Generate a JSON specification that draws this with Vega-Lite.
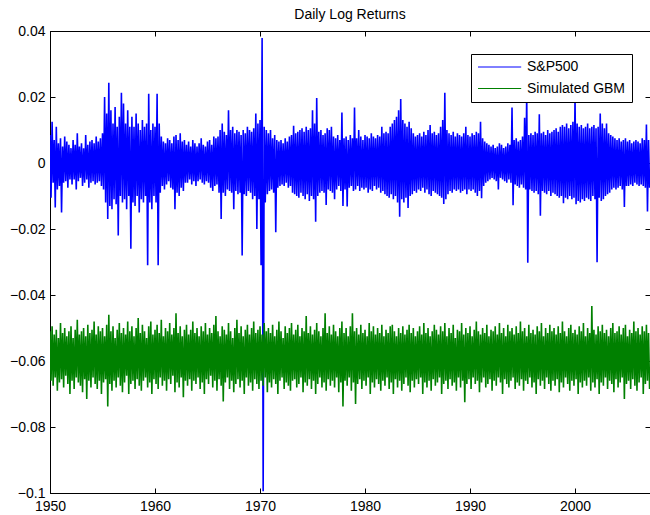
{
"$schema": "https://vega.github.io/schema/vega-lite/v6.json",
"width": 600, "height": 462,
"autosize": {"type": "none"},
"padding": {"left": 50, "top": 31, "right": 0, "bottom": 22},
"background": "white",
"title": {"text": "Daily Log Returns", "fontSize": 14, "font": "Liberation Sans", "fontWeight": "normal", "color": "black", "offset": 2},
"config": {
  "view": {"stroke": "black", "strokeWidth": 1},
  "axis": {"domainColor": "black", "tickColor": "black", "labelColor": "black", "labelFont": "Liberation Sans", "labelFontSize": 14, "grid": false, "tickSize": -5, "title": null, "domainWidth": 1, "tickWidth": 1, "labelPadding": 10, "labelFlush": false}
},
"data": {"values": [
{"t":1950.0,"s":0.0085,"g":-0.0510},{"t":1950.1,"s":-0.0105,"g":-0.0660},{"t":1950.2,"s":0.0125,"g":-0.0495},{"t":1950.3,"s":-0.0060,"g":-0.0675},{"t":1950.4,"s":0.0070,"g":-0.0520},{"t":1950.5,"s":-0.0135,"g":-0.0650},{"t":1950.6,"s":0.0110,"g":-0.0505},{"t":1950.7,"s":-0.0080,"g":-0.0690},{"t":1950.8,"s":0.0060,"g":-0.0530},{"t":1950.9,"s":-0.0070,"g":-0.0665},
{"t":1951.0,"s":0.0075,"g":-0.0485},{"t":1951.1,"s":-0.0150,"g":-0.0655},{"t":1951.2,"s":0.0050,"g":-0.0515},{"t":1951.3,"s":-0.0060,"g":-0.0680},{"t":1951.4,"s":0.0080,"g":-0.0500},{"t":1951.5,"s":-0.0055,"g":-0.0645},{"t":1951.6,"s":0.0065,"g":-0.0525},{"t":1951.7,"s":-0.0075,"g":-0.0670},{"t":1951.8,"s":0.0055,"g":-0.0510},{"t":1951.9,"s":-0.0050,"g":-0.0700},
{"t":1952.0,"s":0.0045,"g":-0.0495},{"t":1952.1,"s":-0.0065,"g":-0.0660},{"t":1952.2,"s":0.0070,"g":-0.0530},{"t":1952.3,"s":-0.0050,"g":-0.0685},{"t":1952.4,"s":0.0055,"g":-0.0505},{"t":1952.5,"s":-0.0080,"g":-0.0650},{"t":1952.6,"s":0.0090,"g":-0.0475},{"t":1952.7,"s":-0.0055,"g":-0.0665},{"t":1952.8,"s":0.0050,"g":-0.0520},{"t":1952.9,"s":-0.0045,"g":-0.0675},
{"t":1953.0,"s":0.0060,"g":-0.0510},{"t":1953.1,"s":-0.0070,"g":-0.0695},{"t":1953.2,"s":0.0045,"g":-0.0500},{"t":1953.3,"s":-0.0060,"g":-0.0655},{"t":1953.4,"s":0.0085,"g":-0.0525},{"t":1953.5,"s":-0.0050,"g":-0.0715},{"t":1953.6,"s":0.0055,"g":-0.0490},{"t":1953.7,"s":-0.0075,"g":-0.0660},{"t":1953.8,"s":0.0065,"g":-0.0515},{"t":1953.9,"s":-0.0060,"g":-0.0680},
{"t":1954.0,"s":0.0070,"g":-0.0505},{"t":1954.1,"s":-0.0055,"g":-0.0650},{"t":1954.2,"s":0.0060,"g":-0.0480},{"t":1954.3,"s":-0.0065,"g":-0.0670},{"t":1954.4,"s":0.0080,"g":-0.0520},{"t":1954.5,"s":-0.0060,"g":-0.0685},{"t":1954.6,"s":0.0065,"g":-0.0495},{"t":1954.7,"s":-0.0055,"g":-0.0660},{"t":1954.8,"s":0.0075,"g":-0.0510},{"t":1954.9,"s":-0.0070,"g":-0.0700},
{"t":1955.0,"s":0.0090,"g":-0.0500},{"t":1955.1,"s":-0.0080,"g":-0.0665},{"t":1955.2,"s":0.0200,"g":-0.0525},{"t":1955.3,"s":-0.0120,"g":-0.0655},{"t":1955.4,"s":0.0150,"g":-0.0490},{"t":1955.5,"s":-0.0170,"g":-0.0738},{"t":1955.6,"s":0.0243,"g":-0.0460},{"t":1955.7,"s":-0.0130,"g":-0.0670},{"t":1955.8,"s":0.0160,"g":-0.0510},{"t":1955.9,"s":-0.0140,"g":-0.0690},
{"t":1956.0,"s":0.0120,"g":-0.0495},{"t":1956.1,"s":-0.0110,"g":-0.0660},{"t":1956.2,"s":0.0170,"g":-0.0530},{"t":1956.3,"s":-0.0125,"g":-0.0680},{"t":1956.4,"s":0.0110,"g":-0.0505},{"t":1956.5,"s":-0.0220,"g":-0.0650},{"t":1956.6,"s":0.0140,"g":-0.0485},{"t":1956.7,"s":-0.0100,"g":-0.0675},{"t":1956.8,"s":0.0213,"g":-0.0515},{"t":1956.9,"s":-0.0120,"g":-0.0695},
{"t":1957.0,"s":0.0180,"g":-0.0500},{"t":1957.1,"s":-0.0110,"g":-0.0665},{"t":1957.2,"s":0.0120,"g":-0.0520},{"t":1957.3,"s":-0.0140,"g":-0.0645},{"t":1957.4,"s":0.0160,"g":-0.0480},{"t":1957.5,"s":-0.0100,"g":-0.0700},{"t":1957.6,"s":0.0110,"g":-0.0510},{"t":1957.7,"s":-0.0260,"g":-0.0670},{"t":1957.8,"s":0.0140,"g":-0.0495},{"t":1957.9,"s":-0.0120,"g":-0.0660},
{"t":1958.0,"s":0.0110,"g":-0.0525},{"t":1958.1,"s":-0.0130,"g":-0.0685},{"t":1958.2,"s":0.0150,"g":-0.0500},{"t":1958.3,"s":-0.0100,"g":-0.0655},{"t":1958.4,"s":0.0120,"g":-0.0470},{"t":1958.5,"s":-0.0150,"g":-0.0675},{"t":1958.6,"s":0.0100,"g":-0.0515},{"t":1958.7,"s":-0.0110,"g":-0.0690},{"t":1958.8,"s":0.0130,"g":-0.0490},{"t":1958.9,"s":-0.0120,"g":-0.0660},
{"t":1959.0,"s":0.0110,"g":-0.0510},{"t":1959.1,"s":-0.0100,"g":-0.0650},{"t":1959.2,"s":0.0120,"g":-0.0530},{"t":1959.3,"s":-0.0310,"g":-0.0680},{"t":1959.4,"s":0.0210,"g":-0.0495},{"t":1959.5,"s":-0.0120,"g":-0.0665},{"t":1959.6,"s":0.0100,"g":-0.0480},{"t":1959.7,"s":-0.0140,"g":-0.0700},{"t":1959.8,"s":0.0120,"g":-0.0520},{"t":1959.9,"s":-0.0100,"g":-0.0655},
{"t":1960.0,"s":0.0110,"g":-0.0505},{"t":1960.1,"s":-0.0120,"g":-0.0670},{"t":1960.2,"s":0.0210,"g":-0.0490},{"t":1960.3,"s":-0.0310,"g":-0.0685},{"t":1960.4,"s":0.0120,"g":-0.0515},{"t":1960.5,"s":-0.0090,"g":-0.0650},{"t":1960.6,"s":0.0080,"g":-0.0475},{"t":1960.7,"s":-0.0070,"g":-0.0675},{"t":1960.8,"s":0.0065,"g":-0.0525},{"t":1960.9,"s":-0.0080,"g":-0.0660},
{"t":1961.0,"s":0.0060,"g":-0.0500},{"t":1961.1,"s":-0.0065,"g":-0.0690},{"t":1961.2,"s":0.0075,"g":-0.0510},{"t":1961.3,"s":-0.0055,"g":-0.0655},{"t":1961.4,"s":0.0070,"g":-0.0485},{"t":1961.5,"s":-0.0075,"g":-0.0670},{"t":1961.6,"s":0.0060,"g":-0.0520},{"t":1961.7,"s":-0.0080,"g":-0.0645},{"t":1961.8,"s":0.0080,"g":-0.0500},{"t":1961.9,"s":-0.0140,"g":-0.0695},
{"t":1962.0,"s":0.0085,"g":-0.0455},{"t":1962.1,"s":-0.0090,"g":-0.0665},{"t":1962.2,"s":0.0070,"g":-0.0515},{"t":1962.3,"s":-0.0100,"g":-0.0680},{"t":1962.4,"s":0.0090,"g":-0.0495},{"t":1962.5,"s":-0.0075,"g":-0.0650},{"t":1962.6,"s":0.0065,"g":-0.0525},{"t":1962.7,"s":-0.0085,"g":-0.0710},{"t":1962.8,"s":0.0070,"g":-0.0505},{"t":1962.9,"s":-0.0060,"g":-0.0660},
{"t":1963.0,"s":0.0055,"g":-0.0490},{"t":1963.1,"s":-0.0060,"g":-0.0675},{"t":1963.2,"s":0.0065,"g":-0.0520},{"t":1963.3,"s":-0.0050,"g":-0.0655},{"t":1963.4,"s":0.0050,"g":-0.0505},{"t":1963.5,"s":-0.0065,"g":-0.0690},{"t":1963.6,"s":0.0070,"g":-0.0480},{"t":1963.7,"s":-0.0055,"g":-0.0660},{"t":1963.8,"s":0.0060,"g":-0.0515},{"t":1963.9,"s":-0.0070,"g":-0.0670},
{"t":1964.0,"s":0.0050,"g":-0.0500},{"t":1964.1,"s":-0.0055,"g":-0.0650},{"t":1964.2,"s":0.0060,"g":-0.0525},{"t":1964.3,"s":-0.0050,"g":-0.0685},{"t":1964.4,"s":0.0075,"g":-0.0495},{"t":1964.5,"s":-0.0060,"g":-0.0665},{"t":1964.6,"s":0.0055,"g":-0.0510},{"t":1964.7,"s":-0.0065,"g":-0.0700},{"t":1964.8,"s":0.0050,"g":-0.0485},{"t":1964.9,"s":-0.0055,"g":-0.0655},
{"t":1965.0,"s":0.0065,"g":-0.0520},{"t":1965.1,"s":-0.0060,"g":-0.0670},{"t":1965.2,"s":0.0070,"g":-0.0500},{"t":1965.3,"s":-0.0075,"g":-0.0645},{"t":1965.4,"s":0.0055,"g":-0.0515},{"t":1965.5,"s":-0.0085,"g":-0.0680},{"t":1965.6,"s":0.0080,"g":-0.0490},{"t":1965.7,"s":-0.0070,"g":-0.0660},{"t":1965.8,"s":0.0075,"g":-0.0464},{"t":1965.9,"s":-0.0065,"g":-0.0690},
{"t":1966.0,"s":0.0080,"g":-0.0510},{"t":1966.1,"s":-0.0090,"g":-0.0655},{"t":1966.2,"s":0.0100,"g":-0.0525},{"t":1966.3,"s":-0.0170,"g":-0.0675},{"t":1966.4,"s":0.0120,"g":-0.0495},{"t":1966.5,"s":-0.0090,"g":-0.0723},{"t":1966.6,"s":0.0095,"g":-0.0505},{"t":1966.7,"s":-0.0100,"g":-0.0665},{"t":1966.8,"s":0.0085,"g":-0.0520},{"t":1966.9,"s":-0.0080,"g":-0.0650},
{"t":1967.0,"s":0.0160,"g":-0.0485},{"t":1967.1,"s":-0.0085,"g":-0.0685},{"t":1967.2,"s":0.0100,"g":-0.0510},{"t":1967.3,"s":-0.0090,"g":-0.0660},{"t":1967.4,"s":0.0110,"g":-0.0530},{"t":1967.5,"s":-0.0140,"g":-0.0695},{"t":1967.6,"s":0.0090,"g":-0.0500},{"t":1967.7,"s":-0.0085,"g":-0.0670},{"t":1967.8,"s":0.0100,"g":-0.0475},{"t":1967.9,"s":-0.0095,"g":-0.0655},
{"t":1968.0,"s":0.0095,"g":-0.0515},{"t":1968.1,"s":-0.0090,"g":-0.0680},{"t":1968.2,"s":0.0085,"g":-0.0495},{"t":1968.3,"s":-0.0280,"g":-0.0660},{"t":1968.4,"s":0.0100,"g":-0.0525},{"t":1968.5,"s":-0.0095,"g":-0.0700},{"t":1968.6,"s":0.0090,"g":-0.0505},{"t":1968.7,"s":-0.0100,"g":-0.0650},{"t":1968.8,"s":0.0110,"g":-0.0490},{"t":1968.9,"s":-0.0085,"g":-0.0675},
{"t":1969.0,"s":0.0100,"g":-0.0520},{"t":1969.1,"s":-0.0090,"g":-0.0665},{"t":1969.2,"s":0.0095,"g":-0.0500},{"t":1969.3,"s":-0.0110,"g":-0.0690},{"t":1969.4,"s":0.0105,"g":-0.0480},{"t":1969.5,"s":-0.0100,"g":-0.0655},{"t":1969.6,"s":0.0150,"g":-0.0515},{"t":1969.7,"s":-0.0200,"g":-0.0670},{"t":1969.8,"s":0.0120,"g":-0.0505},{"t":1969.9,"s":-0.0110,"g":-0.0685},
{"t":1970.0,"s":0.0130,"g":-0.0495},{"t":1970.1,"s":-0.0310,"g":-0.0660},{"t":1970.2,"s":0.0379,"g":-0.0520},{"t":1970.3,"s":-0.0995,"g":-0.0675},{"t":1970.4,"s":0.0110,"g":-0.0485},{"t":1970.5,"s":-0.0120,"g":-0.0650},{"t":1970.6,"s":0.0100,"g":-0.0510},{"t":1970.7,"s":-0.0095,"g":-0.0695},{"t":1970.8,"s":0.0090,"g":-0.0500},{"t":1970.9,"s":-0.0085,"g":-0.0665},
{"t":1971.0,"s":0.0100,"g":-0.0515},{"t":1971.1,"s":-0.0080,"g":-0.0680},{"t":1971.2,"s":0.0075,"g":-0.0490},{"t":1971.3,"s":-0.0090,"g":-0.0655},{"t":1971.4,"s":0.0085,"g":-0.0525},{"t":1971.5,"s":-0.0210,"g":-0.0670},{"t":1971.6,"s":0.0070,"g":-0.0505},{"t":1971.7,"s":-0.0075,"g":-0.0700},{"t":1971.8,"s":0.0065,"g":-0.0480},{"t":1971.9,"s":-0.0070,"g":-0.0660},
{"t":1972.0,"s":0.0070,"g":-0.0510},{"t":1972.1,"s":-0.0065,"g":-0.0650},{"t":1972.2,"s":0.0060,"g":-0.0530},{"t":1972.3,"s":-0.0070,"g":-0.0685},{"t":1972.4,"s":0.0075,"g":-0.0495},{"t":1972.5,"s":-0.0060,"g":-0.0665},{"t":1972.6,"s":0.0065,"g":-0.0515},{"t":1972.7,"s":-0.0075,"g":-0.0675},{"t":1972.8,"s":0.0080,"g":-0.0500},{"t":1972.9,"s":-0.0070,"g":-0.0690},
{"t":1973.0,"s":0.0085,"g":-0.0485},{"t":1973.1,"s":-0.0090,"g":-0.0660},{"t":1973.2,"s":0.0113,"g":-0.0520},{"t":1973.3,"s":-0.0095,"g":-0.0655},{"t":1973.4,"s":0.0090,"g":-0.0505},{"t":1973.5,"s":-0.0100,"g":-0.0680},{"t":1973.6,"s":0.0095,"g":-0.0490},{"t":1973.7,"s":-0.0105,"g":-0.0670},{"t":1973.8,"s":0.0100,"g":-0.0525},{"t":1973.9,"s":-0.0090,"g":-0.0650},
{"t":1974.0,"s":0.0105,"g":-0.0500},{"t":1974.1,"s":-0.0100,"g":-0.0695},{"t":1974.2,"s":0.0095,"g":-0.0510},{"t":1974.3,"s":-0.0110,"g":-0.0665},{"t":1974.4,"s":0.0110,"g":-0.0464},{"t":1974.5,"s":-0.0095,"g":-0.0675},{"t":1974.6,"s":0.0100,"g":-0.0515},{"t":1974.7,"s":-0.0115,"g":-0.0655},{"t":1974.8,"s":0.0105,"g":-0.0495},{"t":1974.9,"s":-0.0100,"g":-0.0685},
{"t":1975.0,"s":0.0160,"g":-0.0520},{"t":1975.1,"s":-0.0110,"g":-0.0660},{"t":1975.2,"s":0.0120,"g":-0.0505},{"t":1975.3,"s":-0.0178,"g":-0.0700},{"t":1975.4,"s":0.0197,"g":-0.0485},{"t":1975.5,"s":-0.0100,"g":-0.0670},{"t":1975.6,"s":0.0095,"g":-0.0510},{"t":1975.7,"s":-0.0090,"g":-0.0650},{"t":1975.8,"s":0.0100,"g":-0.0525},{"t":1975.9,"s":-0.0085,"g":-0.0680},
{"t":1976.0,"s":0.0085,"g":-0.0500},{"t":1976.1,"s":-0.0090,"g":-0.0665},{"t":1976.2,"s":0.0090,"g":-0.0455},{"t":1976.3,"s":-0.0127,"g":-0.0690},{"t":1976.4,"s":0.0105,"g":-0.0515},{"t":1976.5,"s":-0.0080,"g":-0.0655},{"t":1976.6,"s":0.0100,"g":-0.0495},{"t":1976.7,"s":-0.0085,"g":-0.0675},{"t":1976.8,"s":0.0110,"g":-0.0520},{"t":1976.9,"s":-0.0090,"g":-0.0660},
{"t":1977.0,"s":0.0080,"g":-0.0490},{"t":1977.1,"s":-0.0110,"g":-0.0680},{"t":1977.2,"s":0.0075,"g":-0.0510},{"t":1977.3,"s":-0.0080,"g":-0.0650},{"t":1977.4,"s":0.0085,"g":-0.0525},{"t":1977.5,"s":-0.0070,"g":-0.0695},{"t":1977.6,"s":0.0070,"g":-0.0500},{"t":1977.7,"s":-0.0085,"g":-0.0665},{"t":1977.8,"s":0.0153,"g":-0.0480},{"t":1977.9,"s":-0.0130,"g":-0.0738},
{"t":1978.0,"s":0.0075,"g":-0.0515},{"t":1978.1,"s":-0.0080,"g":-0.0660},{"t":1978.2,"s":0.0080,"g":-0.0500},{"t":1978.3,"s":-0.0132,"g":-0.0675},{"t":1978.4,"s":0.0070,"g":-0.0525},{"t":1978.5,"s":-0.0075,"g":-0.0650},{"t":1978.6,"s":0.0085,"g":-0.0495},{"t":1978.7,"s":-0.0070,"g":-0.0690},{"t":1978.8,"s":0.0075,"g":-0.0455},{"t":1978.9,"s":-0.0085,"g":-0.0665},
{"t":1979.0,"s":0.0168,"g":-0.0510},{"t":1979.1,"s":-0.0080,"g":-0.0730},{"t":1979.2,"s":0.0075,"g":-0.0500},{"t":1979.3,"s":-0.0070,"g":-0.0670},{"t":1979.4,"s":0.0100,"g":-0.0520},{"t":1979.5,"s":-0.0085,"g":-0.0655},{"t":1979.6,"s":0.0080,"g":-0.0490},{"t":1979.7,"s":-0.0075,"g":-0.0685},{"t":1979.8,"s":0.0070,"g":-0.0515},{"t":1979.9,"s":-0.0080,"g":-0.0660},
{"t":1980.0,"s":0.0085,"g":-0.0505},{"t":1980.1,"s":-0.0075,"g":-0.0675},{"t":1980.2,"s":0.0080,"g":-0.0525},{"t":1980.3,"s":-0.0090,"g":-0.0650},{"t":1980.4,"s":0.0075,"g":-0.0485},{"t":1980.5,"s":-0.0080,"g":-0.0700},{"t":1980.6,"s":0.0090,"g":-0.0510},{"t":1980.7,"s":-0.0085,"g":-0.0665},{"t":1980.8,"s":0.0080,"g":-0.0495},{"t":1980.9,"s":-0.0070,"g":-0.0680},
{"t":1981.0,"s":0.0075,"g":-0.0520},{"t":1981.1,"s":-0.0080,"g":-0.0655},{"t":1981.2,"s":0.0085,"g":-0.0500},{"t":1981.3,"s":-0.0075,"g":-0.0670},{"t":1981.4,"s":0.0080,"g":-0.0515},{"t":1981.5,"s":-0.0090,"g":-0.0690},{"t":1981.6,"s":0.0110,"g":-0.0490},{"t":1981.7,"s":-0.0085,"g":-0.0660},{"t":1981.8,"s":0.0090,"g":-0.0525},{"t":1981.9,"s":-0.0095,"g":-0.0675},
{"t":1982.0,"s":0.0095,"g":-0.0505},{"t":1982.1,"s":-0.0100,"g":-0.0650},{"t":1982.2,"s":0.0090,"g":-0.0515},{"t":1982.3,"s":-0.0105,"g":-0.0685},{"t":1982.4,"s":0.0110,"g":-0.0495},{"t":1982.5,"s":-0.0095,"g":-0.0665},{"t":1982.6,"s":0.0120,"g":-0.0490},{"t":1982.7,"s":-0.0110,"g":-0.0700},{"t":1982.8,"s":0.0130,"g":-0.0510},{"t":1982.9,"s":-0.0100,"g":-0.0655},
{"t":1983.0,"s":0.0140,"g":-0.0525},{"t":1983.1,"s":-0.0120,"g":-0.0680},{"t":1983.2,"s":0.0160,"g":-0.0500},{"t":1983.3,"s":-0.0163,"g":-0.0660},{"t":1983.4,"s":0.0194,"g":-0.0515},{"t":1983.5,"s":-0.0110,"g":-0.0690},{"t":1983.6,"s":0.0130,"g":-0.0495},{"t":1983.7,"s":-0.0120,"g":-0.0670},{"t":1983.8,"s":0.0120,"g":-0.0520},{"t":1983.9,"s":-0.0105,"g":-0.0650},
{"t":1984.0,"s":0.0110,"g":-0.0505},{"t":1984.1,"s":-0.0136,"g":-0.0675},{"t":1984.2,"s":0.0125,"g":-0.0490},{"t":1984.3,"s":-0.0100,"g":-0.0695},{"t":1984.4,"s":0.0105,"g":-0.0515},{"t":1984.5,"s":-0.0095,"g":-0.0660},{"t":1984.6,"s":0.0090,"g":-0.0500},{"t":1984.7,"s":-0.0085,"g":-0.0680},{"t":1984.8,"s":0.0080,"g":-0.0525},{"t":1984.9,"s":-0.0090,"g":-0.0655},
{"t":1985.0,"s":0.0085,"g":-0.0510},{"t":1985.1,"s":-0.0080,"g":-0.0670},{"t":1985.2,"s":0.0090,"g":-0.0495},{"t":1985.3,"s":-0.0085,"g":-0.0650},{"t":1985.4,"s":0.0080,"g":-0.0520},{"t":1985.5,"s":-0.0075,"g":-0.0700},{"t":1985.6,"s":0.0095,"g":-0.0485},{"t":1985.7,"s":-0.0090,"g":-0.0665},{"t":1985.8,"s":0.0085,"g":-0.0515},{"t":1985.9,"s":-0.0080,"g":-0.0680},
{"t":1986.0,"s":0.0100,"g":-0.0500},{"t":1986.1,"s":-0.0095,"g":-0.0660},{"t":1986.2,"s":0.0115,"g":-0.0525},{"t":1986.3,"s":-0.0100,"g":-0.0690},{"t":1986.4,"s":0.0090,"g":-0.0510},{"t":1986.5,"s":-0.0085,"g":-0.0655},{"t":1986.6,"s":0.0095,"g":-0.0490},{"t":1986.7,"s":-0.0090,"g":-0.0675},{"t":1986.8,"s":0.0085,"g":-0.0505},{"t":1986.9,"s":-0.0095,"g":-0.0665},
{"t":1987.0,"s":0.0090,"g":-0.0520},{"t":1987.1,"s":-0.0100,"g":-0.0650},{"t":1987.2,"s":0.0110,"g":-0.0495},{"t":1987.3,"s":-0.0105,"g":-0.0700},{"t":1987.4,"s":0.0130,"g":-0.0510},{"t":1987.5,"s":-0.0124,"g":-0.0670},{"t":1987.6,"s":0.0213,"g":-0.0485},{"t":1987.7,"s":-0.0110,"g":-0.0660},{"t":1987.8,"s":0.0100,"g":-0.0525},{"t":1987.9,"s":-0.0095,"g":-0.0685},
{"t":1988.0,"s":0.0090,"g":-0.0500},{"t":1988.1,"s":-0.0085,"g":-0.0655},{"t":1988.2,"s":0.0085,"g":-0.0515},{"t":1988.3,"s":-0.0090,"g":-0.0675},{"t":1988.4,"s":0.0095,"g":-0.0490},{"t":1988.5,"s":-0.0080,"g":-0.0665},{"t":1988.6,"s":0.0080,"g":-0.0530},{"t":1988.7,"s":-0.0085,"g":-0.0690},{"t":1988.8,"s":0.0090,"g":-0.0505},{"t":1988.9,"s":-0.0080,"g":-0.0650},
{"t":1989.0,"s":0.0085,"g":-0.0510},{"t":1989.1,"s":-0.0090,"g":-0.0680},{"t":1989.2,"s":0.0080,"g":-0.0485},{"t":1989.3,"s":-0.0085,"g":-0.0660},{"t":1989.4,"s":0.0090,"g":-0.0520},{"t":1989.5,"s":-0.0080,"g":-0.0725},{"t":1989.6,"s":0.0110,"g":-0.0500},{"t":1989.7,"s":-0.0095,"g":-0.0670},{"t":1989.8,"s":0.0085,"g":-0.0515},{"t":1989.9,"s":-0.0080,"g":-0.0655},
{"t":1990.0,"s":0.0080,"g":-0.0495},{"t":1990.1,"s":-0.0085,"g":-0.0685},{"t":1990.2,"s":0.0090,"g":-0.0525},{"t":1990.3,"s":-0.0080,"g":-0.0650},{"t":1990.4,"s":0.0085,"g":-0.0505},{"t":1990.5,"s":-0.0090,"g":-0.0670},{"t":1990.6,"s":0.0095,"g":-0.0480},{"t":1990.7,"s":-0.0100,"g":-0.0660},{"t":1990.8,"s":0.0090,"g":-0.0510},{"t":1990.9,"s":-0.0085,"g":-0.0695},
{"t":1991.0,"s":0.0125,"g":-0.0520},{"t":1991.1,"s":-0.0107,"g":-0.0665},{"t":1991.2,"s":0.0075,"g":-0.0500},{"t":1991.3,"s":-0.0070,"g":-0.0650},{"t":1991.4,"s":0.0065,"g":-0.0515},{"t":1991.5,"s":-0.0060,"g":-0.0680},{"t":1991.6,"s":0.0060,"g":-0.0490},{"t":1991.7,"s":-0.0055,"g":-0.0670},{"t":1991.8,"s":0.0055,"g":-0.0525},{"t":1991.9,"s":-0.0050,"g":-0.0655},
{"t":1992.0,"s":0.0050,"g":-0.0505},{"t":1992.1,"s":-0.0045,"g":-0.0690},{"t":1992.2,"s":0.0055,"g":-0.0510},{"t":1992.3,"s":-0.0050,"g":-0.0660},{"t":1992.4,"s":0.0045,"g":-0.0495},{"t":1992.5,"s":-0.0055,"g":-0.0675},{"t":1992.6,"s":0.0050,"g":-0.0520},{"t":1992.7,"s":-0.0080,"g":-0.0650},{"t":1992.8,"s":0.0060,"g":-0.0485},{"t":1992.9,"s":-0.0045,"g":-0.0665},
{"t":1993.0,"s":0.0055,"g":-0.0515},{"t":1993.1,"s":-0.0050,"g":-0.0700},{"t":1993.2,"s":0.0045,"g":-0.0500},{"t":1993.3,"s":-0.0055,"g":-0.0655},{"t":1993.4,"s":0.0050,"g":-0.0525},{"t":1993.5,"s":-0.0060,"g":-0.0670},{"t":1993.6,"s":0.0060,"g":-0.0490},{"t":1993.7,"s":-0.0050,"g":-0.0680},{"t":1993.8,"s":0.0055,"g":-0.0510},{"t":1993.9,"s":-0.0060,"g":-0.0660},
{"t":1994.0,"s":0.0168,"g":-0.0500},{"t":1994.1,"s":-0.0128,"g":-0.0650},{"t":1994.2,"s":0.0070,"g":-0.0520},{"t":1994.3,"s":-0.0065,"g":-0.0685},{"t":1994.4,"s":0.0075,"g":-0.0495},{"t":1994.5,"s":-0.0070,"g":-0.0665},{"t":1994.6,"s":0.0065,"g":-0.0515},{"t":1994.7,"s":-0.0075,"g":-0.0675},{"t":1994.8,"s":0.0070,"g":-0.0480},{"t":1994.9,"s":-0.0065,"g":-0.0655},
{"t":1995.0,"s":0.0080,"g":-0.0510},{"t":1995.1,"s":-0.0075,"g":-0.0690},{"t":1995.2,"s":0.0137,"g":-0.0500},{"t":1995.3,"s":-0.0080,"g":-0.0660},{"t":1995.4,"s":0.0210,"g":-0.0525},{"t":1995.5,"s":-0.0302,"g":-0.0670},{"t":1995.6,"s":0.0085,"g":-0.0490},{"t":1995.7,"s":-0.0080,"g":-0.0650},{"t":1995.8,"s":0.0090,"g":-0.0515},{"t":1995.9,"s":-0.0085,"g":-0.0680},
{"t":1996.0,"s":0.0085,"g":-0.0505},{"t":1996.1,"s":-0.0090,"g":-0.0665},{"t":1996.2,"s":0.0095,"g":-0.0520},{"t":1996.3,"s":-0.0085,"g":-0.0700},{"t":1996.4,"s":0.0090,"g":-0.0495},{"t":1996.5,"s":-0.0095,"g":-0.0655},{"t":1996.6,"s":0.0148,"g":-0.0510},{"t":1996.7,"s":-0.0160,"g":-0.0675},{"t":1996.8,"s":0.0090,"g":-0.0485},{"t":1996.9,"s":-0.0085,"g":-0.0660},
{"t":1997.0,"s":0.0095,"g":-0.0525},{"t":1997.1,"s":-0.0090,"g":-0.0685},{"t":1997.2,"s":0.0085,"g":-0.0500},{"t":1997.3,"s":-0.0095,"g":-0.0650},{"t":1997.4,"s":0.0100,"g":-0.0515},{"t":1997.5,"s":-0.0085,"g":-0.0670},{"t":1997.6,"s":0.0090,"g":-0.0490},{"t":1997.7,"s":-0.0100,"g":-0.0690},{"t":1997.8,"s":0.0095,"g":-0.0510},{"t":1997.9,"s":-0.0090,"g":-0.0660},
{"t":1998.0,"s":0.0100,"g":-0.0500},{"t":1998.1,"s":-0.0095,"g":-0.0675},{"t":1998.2,"s":0.0105,"g":-0.0520},{"t":1998.3,"s":-0.0100,"g":-0.0655},{"t":1998.4,"s":0.0095,"g":-0.0495},{"t":1998.5,"s":-0.0105,"g":-0.0695},{"t":1998.6,"s":0.0110,"g":-0.0515},{"t":1998.7,"s":-0.0100,"g":-0.0665},{"t":1998.8,"s":0.0115,"g":-0.0480},{"t":1998.9,"s":-0.0122,"g":-0.0680},
{"t":1999.0,"s":0.0110,"g":-0.0510},{"t":1999.1,"s":-0.0105,"g":-0.0650},{"t":1999.2,"s":0.0120,"g":-0.0525},{"t":1999.3,"s":-0.0110,"g":-0.0670},{"t":1999.4,"s":0.0105,"g":-0.0500},{"t":1999.5,"s":-0.0100,"g":-0.0690},{"t":1999.6,"s":0.0115,"g":-0.0490},{"t":1999.7,"s":-0.0110,"g":-0.0660},{"t":1999.8,"s":0.0125,"g":-0.0515},{"t":1999.9,"s":-0.0105,"g":-0.0675},
{"t":2000.0,"s":0.0200,"g":-0.0505},{"t":2000.1,"s":-0.0125,"g":-0.0655},{"t":2000.2,"s":0.0120,"g":-0.0520},{"t":2000.3,"s":-0.0115,"g":-0.0700},{"t":2000.4,"s":0.0110,"g":-0.0495},{"t":2000.5,"s":-0.0120,"g":-0.0665},{"t":2000.6,"s":0.0115,"g":-0.0510},{"t":2000.7,"s":-0.0110,"g":-0.0680},{"t":2000.8,"s":0.0105,"g":-0.0485},{"t":2000.9,"s":-0.0115,"g":-0.0660},
{"t":2001.0,"s":0.0110,"g":-0.0525},{"t":2001.1,"s":-0.0105,"g":-0.0675},{"t":2001.2,"s":0.0120,"g":-0.0500},{"t":2001.3,"s":-0.0110,"g":-0.0650},{"t":2001.4,"s":0.0105,"g":-0.0515},{"t":2001.5,"s":-0.0115,"g":-0.0690},{"t":2001.6,"s":0.0110,"g":-0.0433},{"t":2001.7,"s":-0.0100,"g":-0.0665},{"t":2001.8,"s":0.0115,"g":-0.0505},{"t":2001.9,"s":-0.0110,"g":-0.0680},
{"t":2002.0,"s":0.0105,"g":-0.0520},{"t":2002.1,"s":-0.0301,"g":-0.0655},{"t":2002.2,"s":0.0110,"g":-0.0495},{"t":2002.3,"s":-0.0105,"g":-0.0700},{"t":2002.4,"s":0.0150,"g":-0.0510},{"t":2002.5,"s":-0.0115,"g":-0.0665},{"t":2002.6,"s":0.0120,"g":-0.0490},{"t":2002.7,"s":-0.0110,"g":-0.0675},{"t":2002.8,"s":0.0105,"g":-0.0515},{"t":2002.9,"s":-0.0100,"g":-0.0650},
{"t":2003.0,"s":0.0120,"g":-0.0505},{"t":2003.1,"s":-0.0095,"g":-0.0685},{"t":2003.2,"s":0.0090,"g":-0.0525},{"t":2003.3,"s":-0.0090,"g":-0.0660},{"t":2003.4,"s":0.0085,"g":-0.0500},{"t":2003.5,"s":-0.0080,"g":-0.0670},{"t":2003.6,"s":0.0080,"g":-0.0485},{"t":2003.7,"s":-0.0075,"g":-0.0695},{"t":2003.8,"s":0.0075,"g":-0.0515},{"t":2003.9,"s":-0.0080,"g":-0.0655},
{"t":2004.0,"s":0.0070,"g":-0.0510},{"t":2004.1,"s":-0.0075,"g":-0.0680},{"t":2004.2,"s":0.0075,"g":-0.0495},{"t":2004.3,"s":-0.0070,"g":-0.0665},{"t":2004.4,"s":0.0065,"g":-0.0520},{"t":2004.5,"s":-0.0080,"g":-0.0650},{"t":2004.6,"s":0.0070,"g":-0.0500},{"t":2004.7,"s":-0.0133,"g":-0.0715},{"t":2004.8,"s":0.0075,"g":-0.0490},{"t":2004.9,"s":-0.0070,"g":-0.0670},
{"t":2005.0,"s":0.0065,"g":-0.0525},{"t":2005.1,"s":-0.0070,"g":-0.0660},{"t":2005.2,"s":0.0070,"g":-0.0505},{"t":2005.3,"s":-0.0065,"g":-0.0685},{"t":2005.4,"s":0.0060,"g":-0.0515},{"t":2005.5,"s":-0.0070,"g":-0.0655},{"t":2005.6,"s":0.0065,"g":-0.0480},{"t":2005.7,"s":-0.0060,"g":-0.0675},{"t":2005.8,"s":0.0070,"g":-0.0510},{"t":2005.9,"s":-0.0065,"g":-0.0690},
{"t":2006.0,"s":0.0065,"g":-0.0500},{"t":2006.1,"s":-0.0070,"g":-0.0665},{"t":2006.2,"s":0.0060,"g":-0.0520},{"t":2006.3,"s":-0.0065,"g":-0.0650},{"t":2006.4,"s":0.0075,"g":-0.0495},{"t":2006.5,"s":-0.0070,"g":-0.0700},{"t":2006.6,"s":0.0070,"g":-0.0510},{"t":2006.7,"s":-0.0075,"g":-0.0670},{"t":2006.8,"s":0.0117,"g":-0.0490},{"t":2006.9,"s":-0.0147,"g":-0.0660},
{"t":2007.0,"s":0.0070,"g":-0.0515},{"t":2007.1,"s":-0.0075,"g":-0.0685}
]},
"layer": [
  {
    "mark": {"type": "line", "strokeWidth": 1.6, "clip": true},
    "encoding": {
      "x": {"field": "t", "type": "quantitative", "scale": {"domain": [1950, 2007.14], "nice": false, "zero": false},
            "axis": {"orient": "bottom", "values": [1950, 1960, 1970, 1980, 1990, 2000], "format": "d", "labelPadding": 11}},
      "y": {"field": "s", "type": "quantitative", "scale": {"domain": [-0.1, 0.04], "nice": false, "zero": false},
            "axis": {"orient": "left", "values": [-0.1, -0.08, -0.06, -0.04, -0.02, 0, 0.02, 0.04], "format": "~g"}},
      "color": {"datum": "S&P500", "type": "nominal",
                "scale": {"domain": ["S&P500", "Simulated GBM"], "range": ["#0000ff", "#008000"]},
                "legend": {"orient": "none", "legendX": 421, "legendY": 23, "title": null, "strokeColor": "black", "fillColor": "white", "padding": 6, "symbolType": "M -1 0 L 6.2 0", "symbolSize": 144, "symbolStrokeWidth": 1, "labelOffset": 36, "labelFontSize": 14, "labelFont": "Liberation Sans", "labelColor": "black", "rowPadding": 7.5}}
    }
  },
  {
    "mark": {"type": "line", "strokeWidth": 1.6, "clip": true},
    "encoding": {
      "x": {"field": "t", "type": "quantitative",
            "axis": {"orient": "top", "values": [1950, 1960, 1970, 1980, 1990, 2000], "labels": false}},
      "y": {"field": "g", "type": "quantitative",
            "axis": {"orient": "right", "values": [-0.1, -0.08, -0.06, -0.04, -0.02, 0, 0.02, 0.04], "labels": false}},
      "color": {"datum": "Simulated GBM", "type": "nominal"}
    }
  }
],
"resolve": {"axis": {"x": "independent", "y": "independent"}}
}
